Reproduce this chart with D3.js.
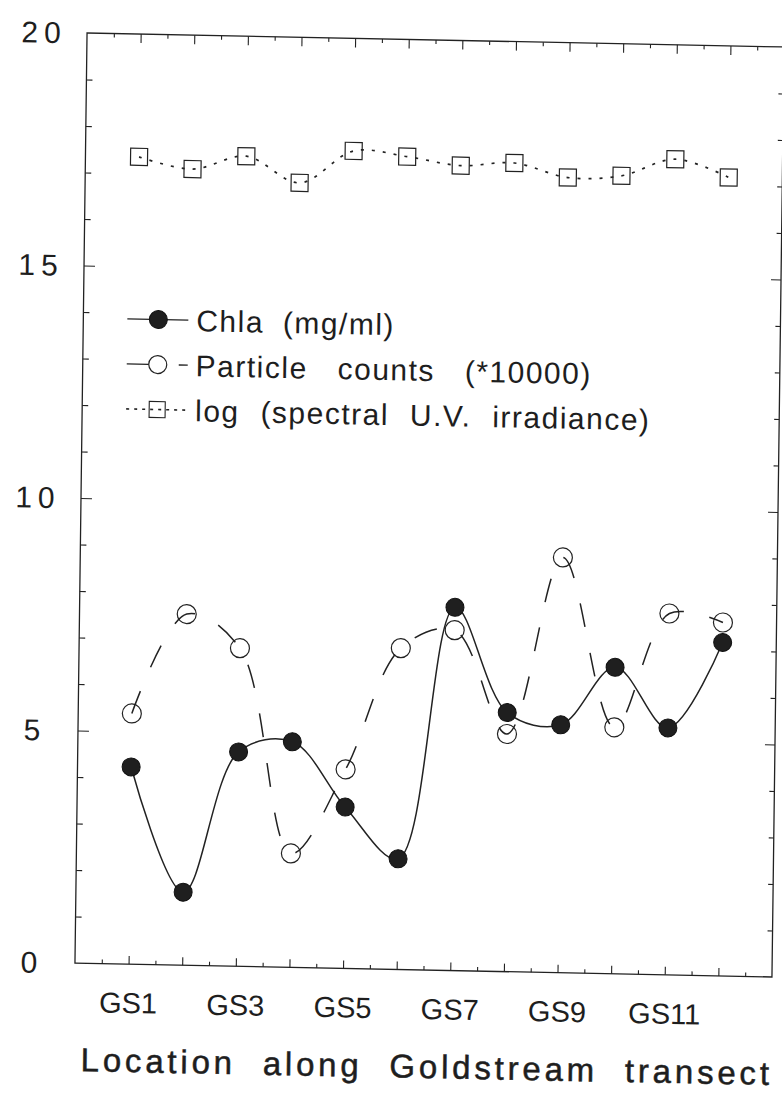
<!DOCTYPE html>
<html>
<head>
<meta charset="utf-8">
<script src="https://cdn.jsdelivr.net/npm/d3@7"></script>
<style>
  html, body { margin: 0; padding: 0; background: #fff; }
  svg { display: block; }
  text { font-family: "Liberation Sans", Arial, Helvetica, sans-serif; fill: #1e1e1e; }
</style>
</head>
<body>
<svg id="chart" width="782" height="1095"></svg>
<script>
// Stations along the Goldstream transect
const stations = ["GS1", "GS2", "GS3", "GS4", "GS5", "GS6", "GS7", "GS8", "GS9", "GS10", "GS11", "GS12"];
const stationLabels = ["GS1", "GS3", "GS5", "GS7", "GS9", "GS11"];

// Chlorophyll a (mg/ml)
const chla = [4.24, 1.57, 4.61, 4.85, 3.47, 2.38, 7.81, 5.57, 5.33, 6.59, 5.31, 7.17];
// Particle counts (*10000)
const particles = [5.39, 7.55, 6.84, 2.45, 4.28, 6.91, 7.32, 5.11, 8.93, 5.30, 7.77, 7.60];
// log (spectral U.V. irradiance)
const uvLog = [17.36, 17.12, 17.42, 16.87, 17.58, 17.48, 17.31, 17.39, 17.10, 17.16, 17.54, 17.17];

const yTickLabels = [0, 5, 10, 15, 20];

const legendEntries = [
  { label: "Chla (mg/ml)", kind: "chla" },
  { label: "Particle counts (*10000)", kind: "particles" },
  { label: "log (spectral U.V. irradiance)", kind: "uv" }
];

const ink = "#222";
const frame = { left: 81, right: 778, top: 40, bottom: 970 };

const x = d3.scaleLinear().domain([0, stations.length + 1]).range([frame.left, frame.right]);
const y = d3.scaleLinear().domain([0, 20]).range([frame.bottom, frame.top]);
const xi = (d, i) => x(i + 1);

const svg = d3.select("#chart");
svg.append("rect").attr("width", 782).attr("height", 1095).attr("fill", "#fff");

// the printed sheet sits slightly askew on the page
const cx = (frame.left + frame.right) / 2, cy = (frame.top + frame.bottom) / 2;
const g = svg.append("g")
  .attr("transform", `translate(${cx},${cy}) matrix(1,0.02,-0.013,1,0,0) translate(${-cx},${-cy})`);

// plot frame
g.append("rect")
  .attr("x", frame.left).attr("y", frame.top)
  .attr("width", frame.right - frame.left).attr("height", frame.bottom - frame.top)
  .attr("fill", "none").attr("stroke", ink).attr("stroke-width", 1.3);

function tickOnly(sel) {
  sel.select(".domain").remove();
  sel.selectAll("text").remove();
  sel.selectAll("line").attr("stroke", ink).attr("stroke-width", 1.1);
}

const majorX = d3.range(1, stations.length + 1);
const minorX = d3.range(0.5, stations.length + 1, 1);
const majorY = [5, 10, 15];
const minorY = d3.range(1, 20).filter(v => v % 5 !== 0);

// bottom and top ticks (pointing inward)
g.append("g").attr("transform", `translate(0,${frame.bottom})`)
  .call(d3.axisBottom(x).tickValues(majorX).tickSize(-8).tickFormat("")).call(tickOnly);
g.append("g").attr("transform", `translate(0,${frame.bottom})`)
  .call(d3.axisBottom(x).tickValues(minorX).tickSize(-4).tickFormat("")).call(tickOnly);
g.append("g").attr("transform", `translate(0,${frame.top})`)
  .call(d3.axisTop(x).tickValues(majorX).tickSize(-9).tickFormat("")).call(tickOnly);
g.append("g").attr("transform", `translate(0,${frame.top})`)
  .call(d3.axisTop(x).tickValues(minorX).tickSize(-4).tickFormat("")).call(tickOnly);

// left and right ticks
g.append("g").attr("transform", `translate(${frame.left},0)`)
  .call(d3.axisLeft(y).tickValues(majorY).tickSize(-11).tickFormat("")).call(tickOnly);
g.append("g").attr("transform", `translate(${frame.left},0)`)
  .call(d3.axisLeft(y).tickValues(minorY).tickSize(-6).tickFormat("")).call(tickOnly);
g.append("g").attr("transform", `translate(${frame.right},0)`)
  .call(d3.axisRight(y).tickValues(majorY).tickSize(-10).tickFormat("")).call(tickOnly);
g.append("g").attr("transform", `translate(${frame.right},0)`)
  .call(d3.axisRight(y).tickValues(minorY).tickSize(-5).tickFormat("")).call(tickOnly);

// y tick labels
g.append("g").selectAll("text").data(yTickLabels).join("text")
  .attr("x", 38).attr("y", d => y(d) + 10.5)
  .attr("text-anchor", "middle")
  .attr("font-size", 30).attr("letter-spacing", 6)
  .text(d => d);

// station labels
g.append("g").selectAll("text").data(stationLabels).join("text")
  .attr("x", d => x(stations.indexOf(d) + 1))
  .attr("y", 1019)
  .attr("text-anchor", "middle")
  .attr("font-size", 29)
  .text(d => d);

// axis title
g.append("text")
  .attr("x", 88).attr("y", 1078)
  .attr("font-size", 33)
  .attr("letter-spacing", 3.8).attr("word-spacing", 14)
  .attr("stroke", "#1e1e1e").attr("stroke-width", 0.5)
  .text("Location along Goldstream transect");

// series lines
const line = d3.line().x(xi).y(d => y(d)).curve(d3.curveCatmullRom);

g.append("path").datum(uvLog).attr("d", line)
  .attr("fill", "none").attr("stroke", ink).attr("stroke-width", 1.7)
  .attr("stroke-dasharray", "3 8");
g.append("path").datum(particles).attr("d", line)
  .attr("fill", "none").attr("stroke", ink).attr("stroke-width", 1.5)
  .attr("stroke-dasharray", "24 26");
g.append("path").datum(chla).attr("d", line)
  .attr("fill", "none").attr("stroke", ink).attr("stroke-width", 1.5);

// markers
const sq = 17;
g.append("g").selectAll("rect").data(uvLog).join("rect")
  .attr("x", (d, i) => xi(d, i) - sq / 2).attr("y", d => y(d) - sq / 2)
  .attr("width", sq).attr("height", sq)
  .attr("fill", "none").attr("stroke", ink).attr("stroke-width", 1.2);
g.append("g").selectAll("circle").data(particles).join("circle")
  .attr("cx", xi).attr("cy", d => y(d)).attr("r", 9.5)
  .attr("fill", "none").attr("stroke", ink).attr("stroke-width", 1.2);
g.append("g").selectAll("circle").data(chla).join("circle")
  .attr("cx", xi).attr("cy", d => y(d)).attr("r", 9)
  .attr("fill", "#1f1f1f").attr("stroke", "#111").attr("stroke-width", 1);

// legend
const legend = g.append("g");
const rowY = [325, 370, 415];
const wordGap = [9, 20, 11];
const symX0 = 125, symX1 = 186, symC = 156, textX = 194;

legendEntries.forEach((e, k) => {
  const ry = rowY[k];
  const l = legend.append("line")
    .attr("x1", symX0).attr("x2", symX1).attr("y1", ry).attr("y2", ry)
    .attr("stroke", ink).attr("stroke-width", 1.4);
  if (e.kind === "particles") l.attr("stroke-dasharray", "22 30 10");
  if (e.kind === "uv") l.attr("stroke-dasharray", "3 5").attr("stroke-width", 1.6);
  if (e.kind === "chla") {
    legend.append("circle").attr("cx", symC).attr("cy", ry).attr("r", 9)
      .attr("fill", "#1f1f1f").attr("stroke", "#111");
  } else if (e.kind === "particles") {
    legend.append("circle").attr("cx", symC).attr("cy", ry).attr("r", 9)
      .attr("fill", "none").attr("stroke", ink).attr("stroke-width", 1.2);
  } else {
    legend.append("rect").attr("x", symC - 8).attr("y", ry - 8).attr("width", 16).attr("height", 16)
      .attr("fill", "none").attr("stroke", ink).attr("stroke-width", 1.1);
  }
  legend.append("text")
    .attr("x", textX).attr("y", ry + 11)
    .attr("font-size", 30)
    .attr("letter-spacing", 1.5).attr("word-spacing", wordGap[k])
    .text(e.label);
});
</script>
</body>
</html>
